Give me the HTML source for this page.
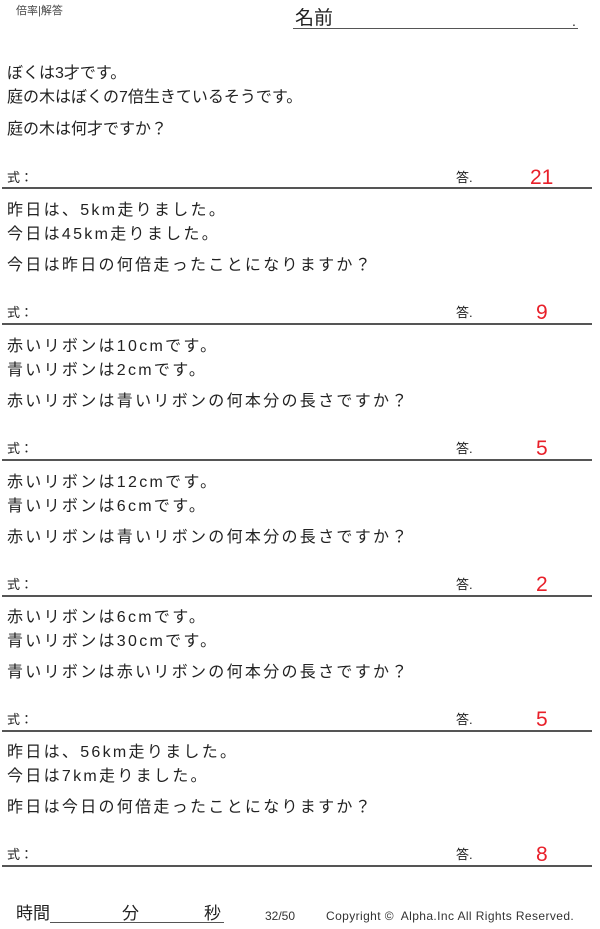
<!DOCTYPE html>
<html><head><meta charset="utf-8"><style>
body{margin:0;width:600px;height:929px;background:#fff;position:relative;font-family:"Liberation Sans","Noto Sans CJK JP",sans-serif;color:#222;overflow:hidden}
.t{position:absolute;white-space:nowrap;line-height:1}
.s{font-size:16px;left:7px}
.w{letter-spacing:2.3px}
.k{font-size:13px;left:7px}
.a{font-size:13px;left:456px}
.r{font-size:21px;color:#e8202a;left:530px}
.rule{position:absolute;left:2px;width:590px;height:2px;background:#555}
</style></head><body>
<div class="t" style="left:16px;top:6px;font-size:11px;color:#444">倍率|解答</div>
<div class="t" style="left:295px;top:9px;font-size:19px">名前</div>
<div class="t" style="left:572px;top:14px;font-size:14px">.</div>
<div style="position:absolute;left:293px;top:28px;width:285px;height:1px;background:#555"></div>

<div class="t s" style="top:66px">ぼくは3才です。</div>
<div class="t s" style="top:90px">庭の木はぼくの7倍生きているそうです。</div>
<div class="t s" style="top:122px">庭の木は何才ですか？</div>
<div class="t k" style="top:171px">式：</div><div class="t a" style="top:171px">答.</div><div class="t r" style="top:167px">21</div>
<div class="rule" style="top:187px"></div>

<div class="t s w" style="top:203px">昨日は、5km走りました。</div>
<div class="t s w" style="top:227px">今日は45km走りました。</div>
<div class="t s w" style="top:258px">今日は昨日の何倍走ったことになりますか？</div>
<div class="t k" style="top:306px">式：</div><div class="t a" style="top:306px">答.</div><div class="t r" style="top:302px;left:536px">9</div>
<div class="rule" style="top:323px"></div>

<div class="t s w" style="top:339px">赤いリボンは10cmです。</div>
<div class="t s w" style="top:363px">青いリボンは2cmです。</div>
<div class="t s w" style="top:394px">赤いリボンは青いリボンの何本分の長さですか？</div>
<div class="t k" style="top:442px">式：</div><div class="t a" style="top:442px">答.</div><div class="t r" style="top:438px;left:536px">5</div>
<div class="rule" style="top:459px"></div>

<div class="t s w" style="top:475px">赤いリボンは12cmです。</div>
<div class="t s w" style="top:499px">青いリボンは6cmです。</div>
<div class="t s w" style="top:530px">赤いリボンは青いリボンの何本分の長さですか？</div>
<div class="t k" style="top:578px">式：</div><div class="t a" style="top:578px">答.</div><div class="t r" style="top:574px;left:536px">2</div>
<div class="rule" style="top:595px"></div>

<div class="t s w" style="top:610px">赤いリボンは6cmです。</div>
<div class="t s w" style="top:634px">青いリボンは30cmです。</div>
<div class="t s w" style="top:665px">青いリボンは赤いリボンの何本分の長さですか？</div>
<div class="t k" style="top:713px">式：</div><div class="t a" style="top:713px">答.</div><div class="t r" style="top:709px;left:536px">5</div>
<div class="rule" style="top:730px"></div>

<div class="t s w" style="top:745px">昨日は、56km走りました。</div>
<div class="t s w" style="top:769px">今日は7km走りました。</div>
<div class="t s w" style="top:800px">昨日は今日の何倍走ったことになりますか？</div>
<div class="t k" style="top:848px">式：</div><div class="t a" style="top:848px">答.</div><div class="t r" style="top:844px;left:536px">8</div>
<div class="rule" style="top:865px"></div>

<div class="t" style="left:16px;top:905px;font-size:17px">時間</div>
<div style="position:absolute;left:50px;top:922px;width:174px;height:1px;background:#555"></div>
<div class="t" style="left:122px;top:905px;font-size:17px">分</div>
<div class="t" style="left:204px;top:905px;font-size:17px">秒</div>
<div class="t" style="left:265px;top:910px;font-size:12px;color:#333">32/50</div>
<div class="t" style="left:326px;top:910px;font-size:12px;color:#333;letter-spacing:0.4px">Copyright ©&nbsp; Alpha.Inc All Rights Reserved.</div>
</body></html>
